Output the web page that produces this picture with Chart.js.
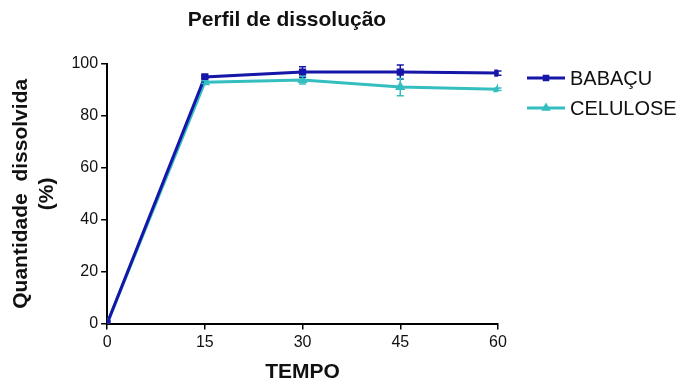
<!DOCTYPE html>
<html>
<head>
<meta charset="utf-8">
<script src="https://cdn.jsdelivr.net/npm/chart.js@4"></script>
<style>
  html, body { margin: 0; padding: 0; background: #fff; }
  #wrap { width: 683px; height: 385px; }
</style>
</head>
<body>
<div id="wrap"><canvas id="chart"></canvas></div>
<script>
// Data
const tempo = [0, 15, 30, 45, 60];
const babacu = [0, 95.0, 96.9, 96.9, 96.5];
const babacuErr = [0, 0.5, 2.0, 2.7, 0.8];
const celulose = [0, 93.0, 93.8, 91.1, 90.3];
const celuloseErr = [0, 0.5, 1.5, 3.3, 0.5];
const xTicks = [0, 15, 30, 45, 60];
const chartTitle = 'Perfil de dissolução';

const colors = {
  blue: 'rgb(22, 22, 168)',
  teal: 'rgb(52, 190, 192)'
};

Chart.defaults.font.family = "'Liberation Sans', Arial, sans-serif";
Chart.defaults.color = '#111';

// draws the vertical error bars with small caps
const errorBars = {
  id: 'errorBars',
  afterDatasetsDraw(chart) {
    const ctx = chart.ctx;
    const x = chart.scales.x;
    const y = chart.scales.y;
    chart.data.datasets.forEach(ds => {
      ctx.save();
      ctx.strokeStyle = ds.borderColor;
      ctx.lineWidth = 1.5;
      ds.data.forEach((p, i) => {
        const e = ds.errors[i];
        if (!e) return;
        const px = x.getPixelForValue(p.x);
        const top = y.getPixelForValue(p.y + e);
        const bot = y.getPixelForValue(p.y - e);
        ctx.beginPath();
        ctx.moveTo(px, top); ctx.lineTo(px, bot);
        ctx.moveTo(px - 3.5, top); ctx.lineTo(px + 3.5, top);
        ctx.moveTo(px - 3.5, bot); ctx.lineTo(px + 3.5, bot);
        ctx.stroke();
      });
      ctx.restore();
    });
  }
};

// legend to the right of the plot, title centred over plot + legend
const sideLegend = {
  id: 'sideLegend',
  afterDraw(chart) {
    const ctx = chart.ctx;
    const area = chart.chartArea;
    const x0 = area.right + 29;
    chart.data.datasets.forEach((ds, i) => {
      const yy = area.top + 14 + i * 30;
      ctx.save();
      ctx.strokeStyle = ds.borderColor;
      ctx.fillStyle = ds.borderColor;
      ctx.lineWidth = 3;
      ctx.beginPath();
      ctx.moveTo(x0, yy);
      ctx.lineTo(x0 + 38, yy);
      ctx.stroke();
      Chart.helpers.drawPoint(ctx, { pointStyle: ds.pointStyle, radius: 2.5, borderWidth: 1 }, x0 + 19, yy);
      ctx.fillStyle = '#111';
      ctx.font = "20px 'Liberation Sans', Arial, sans-serif";
      ctx.textBaseline = 'middle';
      ctx.fillText(ds.label, x0 + 43, yy + 1);
      ctx.restore();
    });

    ctx.save();
    ctx.fillStyle = '#111';
    ctx.font = "bold 21px 'Liberation Sans', Arial, sans-serif";
    ctx.textAlign = 'center';
    ctx.textBaseline = 'middle';
    ctx.fillText(chartTitle, (area.right + 76) / 2, 20);
    ctx.restore();
  }
};

const ctx = document.getElementById('chart').getContext('2d');
new Chart(ctx, {
  type: 'line',
  data: {
    datasets: [{
      label: 'BABAÇU',
      data: tempo.map((t, i) => ({ x: t, y: babacu[i] })),
      errors: babacuErr,
      borderColor: colors.blue,
      backgroundColor: colors.blue,
      borderWidth: 3,
      pointStyle: 'rect',
      pointRadius: 3,
      tension: 0
    }, {
      label: 'CELULOSE',
      data: tempo.map((t, i) => ({ x: t, y: celulose[i] })),
      errors: celuloseErr,
      borderColor: colors.teal,
      backgroundColor: colors.teal,
      borderWidth: 3,
      pointStyle: 'triangle',
      pointRadius: 3,
      tension: 0
    }]
  },
  options: {
    responsive: true,
    maintainAspectRatio: false,
    animation: false,
    layout: { padding: { left: 9, right: 185, top: 64, bottom: 0 } },
    plugins: {
      title: { display: false },
      legend: { display: false },
      tooltip: { enabled: false }
    },
    scales: {
      x: {
        type: 'linear',
        min: 0,
        max: 60,
        afterBuildTicks: axis => { axis.ticks = xTicks.map(v => ({ value: v })); },
        grid: { drawOnChartArea: false, drawTicks: true, tickLength: 6, color: '#000', lineWidth: 1.5 },
        border: { color: '#000', width: 2 },
        ticks: { color: '#111', font: { size: 16 }, padding: 3 },
        title: {
          display: true,
          text: 'TEMPO',
          color: '#111',
          font: { size: 21, weight: 'bold' },
          padding: { top: 5, bottom: 0 }
        }
      },
      y: {
        min: 0,
        max: 100,
        ticks: { stepSize: 20, color: '#111', font: { size: 16 }, padding: 3 },
        grid: { drawOnChartArea: false, drawTicks: true, tickLength: 6, color: '#000', lineWidth: 1.5 },
        border: { color: '#000', width: 2 },
        title: {
          display: true,
          text: ['Quantidade  dissolvida', '(%)'],
          color: '#111',
          font: { size: 21, weight: 'bold' },
          padding: { top: 0, bottom: 9 }
        }
      }
    }
  },
  plugins: [errorBars, sideLegend]
});
</script>
</body>
</html>
